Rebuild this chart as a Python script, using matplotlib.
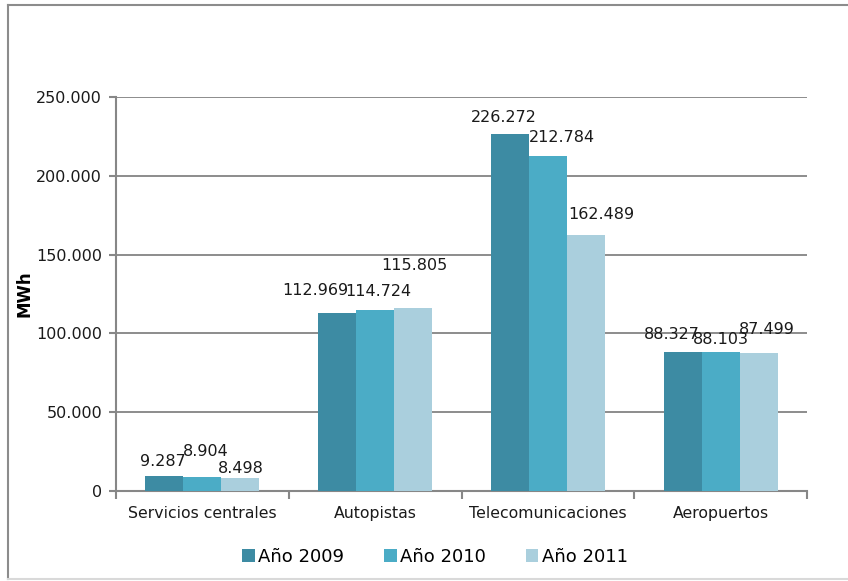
import matplotlib
matplotlib.use("Agg")
import matplotlib.pyplot as plt
import numpy as np
from matplotlib.ticker import FuncFormatter, FixedLocator
from matplotlib.lines import Line2D

# data
categories = ["Servicios centrales", "Autopistas", "Telecomunicaciones", "Aeropuertos"]
years = ["Año 2009", "Año 2010", "Año 2011"]
y2009 = [9287, 112969, 226272, 88327]
y2010 = [8904, 114724, 212784, 88103]
y2011 = [8498, 115805, 162489, 87499]

colors = ["#3D8BA3", "#4BACC6", "#AACFDD"]

# label offsets in pixels (dx, dy), mimicking the overlapping Excel labels
label_offsets = [
    [(-1, 15), (-22, 22), (-6, 17), (-11, 17)],
    [(3, 25), (3, 19), (14, 18), (0, 13)],
    [(0, 9), (1, 43), (15, 20), (8, 24)],
]


def fmt(v, pos=None):
    return "{:,.0f}".format(v).replace(",", ".")


fig = plt.figure(figsize=(8.48, 5.81), dpi=100)
ax = fig.add_axes([116 / 848, 1 - 491 / 581, (807 - 116) / 848, (491 - 97) / 581])

x = np.arange(len(categories))
w = 0.22
series = [y2009, y2010, y2011]
for i, vals in enumerate(series):
    pos = x + (i - 1) * w
    ax.bar(pos, vals, width=w, color=colors[i], label=years[i], zorder=3)
    for j, v in enumerate(vals):
        dx, dy = label_offsets[i][j]
        ax.annotate(fmt(v), (pos[j], v), xytext=(dx, dy), textcoords="offset pixels",
                    ha="center", va="center", fontsize=11.5, color="#1a1a1a", zorder=5)

ax.set_xlim(-0.5, 3.5)
ax.set_ylim(0, 250000)
ax.set_yticks(np.arange(0, 250001, 50000))
ax.yaxis.set_major_formatter(FuncFormatter(fmt))
ax.grid(axis="y", color="#8C8C8C", linewidth=1.4, zorder=0)

ax.set_xticks(x)
ax.set_xticklabels(categories, fontsize=11.3, color="#1a1a1a")
ax.xaxis.set_minor_locator(FixedLocator(np.arange(-0.5, 3.6, 1)))
ax.tick_params(axis="x", which="major", length=0, pad=11)
ax.tick_params(axis="x", which="minor", length=6, width=1.5, color="#878787")
ax.tick_params(axis="y", length=5, width=1.5, color="#878787", labelsize=11.5,
               labelcolor="#1a1a1a", pad=5)

for s in ["top", "right"]:
    ax.spines[s].set_visible(False)
for s in ["left", "bottom"]:
    ax.spines[s].set_color("#878787")
    ax.spines[s].set_linewidth(1.5)

ax.set_ylabel("MWh", fontsize=12, fontweight="bold")
ax.yaxis.set_label_coords(-0.12, 0.5)

ax.legend(loc="center", bbox_to_anchor=(435 / 848, 1 - 557 / 581), bbox_transform=fig.transFigure,
          ncol=3, frameon=False, fontsize=13, handlelength=0.7, handleheight=0.7,
          handletextpad=0.2, columnspacing=2.2)

# outer chart border
fig.add_artist(Line2D([8 / 848, 8 / 848], [1 - 5 / 581, 1 - 579 / 581], color="#8C8C8C", lw=1.5))
fig.add_artist(Line2D([8 / 848, 1], [1 - 5 / 581, 1 - 5 / 581], color="#8C8C8C", lw=1.5))
fig.add_artist(Line2D([8 / 848, 1], [1 - 579 / 581, 1 - 579 / 581], color="#D9D9D9", lw=1.5))

fig.savefig("out.png", dpi=100)
